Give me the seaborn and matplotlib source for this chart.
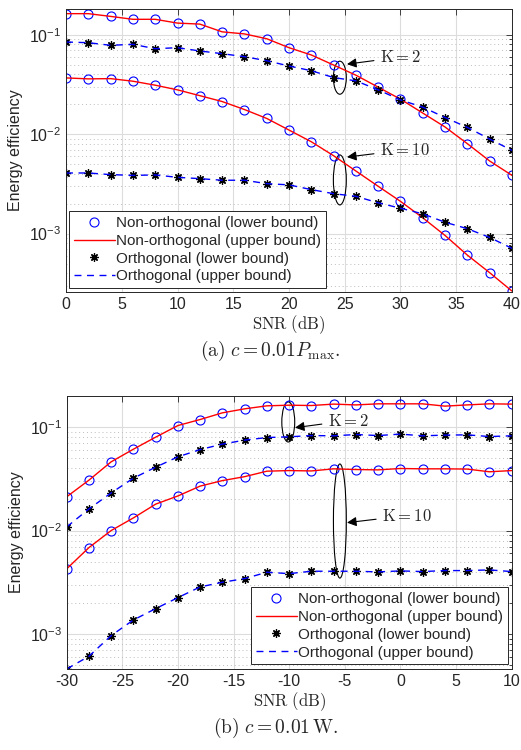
import numpy as np
import pandas as pd
import matplotlib
matplotlib.use('Agg')
import matplotlib.pyplot as plt
import seaborn as sns
from matplotlib.patches import Ellipse
from matplotlib.lines import Line2D
from matplotlib.ticker import LogLocator, NullFormatter

# SNR grids
snr_a = [0, 2, 4, 6, 8, 10, 12, 14, 16, 18, 20, 22, 24, 26, 28, 30, 32, 34, 36, 38, 40]
snr_b = [-30, -28, -26, -24, -22, -20, -18, -16, -14, -12, -10, -8, -6, -4, -2, 0, 2, 4, 6, 8, 10]

# (a) c = 0.01 Pmax
noma_k2_a = [0.163, 0.163, 0.153, 0.143, 0.143, 0.131, 0.128, 0.107, 0.102, 0.0912, 0.0741,
             0.0626, 0.0496, 0.0392, 0.0297, 0.0225, 0.0163, 0.0118, 0.00802, 0.00537, 0.00385]
oma_k2_a = [0.0845, 0.0832, 0.0783, 0.0801, 0.0724, 0.0741, 0.0687, 0.0645, 0.0602, 0.0548, 0.0485,
            0.0435, 0.0371, 0.0344, 0.0279, 0.0221, 0.0187, 0.0147, 0.0117, 0.00893, 0.00687]
noma_k10_a = [0.0368, 0.0360, 0.0362, 0.0341, 0.0311, 0.0279, 0.0244, 0.0213, 0.0177, 0.0144, 0.0110,
              0.00839, 0.00607, 0.00426, 0.00299, 0.00211, 0.00144, 0.000957, 0.000607, 0.000404, 0.000264]
oma_k10_a = [0.00407, 0.00407, 0.00392, 0.00385, 0.00389, 0.00368, 0.00357, 0.00344, 0.00344, 0.00318, 0.00309,
             0.00277, 0.00252, 0.00237, 0.00204, 0.00180, 0.00158, 0.00130, 0.00112, 0.000914, 0.000710]

# (b) c = 0.01 W
noma_k2_b = [0.0212, 0.0307, 0.0462, 0.0612, 0.0800, 0.1036, 0.1185, 0.1375, 0.1503, 0.1607, 0.163,
             0.1618, 0.167, 0.164, 0.168, 0.168, 0.168, 0.1596, 0.164, 0.168, 0.167]
oma_k2_b = [0.01084, 0.01618, 0.0231, 0.0321, 0.0410, 0.0516, 0.0607, 0.0685, 0.0749, 0.0793, 0.0806,
            0.0829, 0.0824, 0.0848, 0.0829, 0.0856, 0.0824, 0.0837, 0.0842, 0.0811, 0.0824]
noma_k10_b = [0.00426, 0.00684, 0.0100, 0.01325, 0.0180, 0.0216, 0.0269, 0.0304, 0.0332, 0.0375, 0.0380,
              0.0377, 0.0395, 0.0389, 0.0386, 0.0398, 0.0395, 0.0395, 0.0393, 0.0370, 0.0380]
oma_k10_b = [0.000458, 0.000608, 0.000964, 0.001365, 0.001757, 0.002245, 0.00285, 0.00316, 0.00343, 0.00395, 0.00383,
             0.00404, 0.00404, 0.00404, 0.00398, 0.00407, 0.00401, 0.00410, 0.00410, 0.00416, 0.00401]

labels = ['Non-orthogonal (lower bound)', 'Non-orthogonal (upper bound)',
          'Orthogonal (lower bound)', 'Orthogonal (upper bound)']

sns.set_theme(style='white')
plt.rcParams['font.family'] = ['Liberation Sans', 'DejaVu Sans']
plt.rcParams['mathtext.fontset'] = 'cm'
plt.rcParams['axes.unicode_minus'] = False

asterisk = (8, 2, 0)


def draw(ax, snr, noma_k2, oma_k2, noma_k10, oma_k10):
    for noma, oma in [(noma_k2, oma_k2), (noma_k10, oma_k10)]:
        df = pd.DataFrame({'snr': snr, 'noma': noma, 'oma': oma})
        sns.lineplot(data=df, x='snr', y='noma', ax=ax, estimator=None, linestyle='none',
                     marker='o', markersize=6.5, markerfacecolor='none',
                     markeredgecolor='blue', markeredgewidth=0.8)
        sns.lineplot(data=df, x='snr', y='noma', ax=ax, estimator=None, color='red', lw=1)
        sns.lineplot(data=df, x='snr', y='oma', ax=ax, estimator=None, linestyle='none',
                     marker=asterisk, markersize=6, markeredgecolor='black',
                     markerfacecolor='black', markeredgewidth=0.9)
        sns.lineplot(data=df, x='snr', y='oma', ax=ax, estimator=None, color='blue', lw=1,
                     linestyle=(0, (5, 4)))
    ax.set_yscale('log')
    ax.set_xlim(snr[0], snr[-1])
    ax.set_xticks(range(snr[0], snr[-1] + 1, 5))
    ax.yaxis.set_major_locator(LogLocator(base=10))
    ax.yaxis.set_minor_locator(LogLocator(base=10, subs=np.arange(2, 10)))
    ax.yaxis.set_minor_formatter(NullFormatter())
    ax.grid(which='major', axis='both', color='#dcdcdc', lw=0.8, ls='-')
    ax.grid(which='minor', axis='y', color='#bdbdbd', lw=0.7, ls=(0, (1, 3)))
    ax.set_axisbelow(True)
    ax.tick_params(which='both', direction='in', top=True, right=True, labelsize=11.5,
                   colors='#262626', width=0.6)
    ax.tick_params(which='major', length=4.5)
    ax.tick_params(which='minor', length=2.5)
    for s in ax.spines.values():
        s.set_color('#262626')
        s.set_linewidth(0.7)
    ax.set_xlabel(r'$\mathrm{SNR\ (dB)}$', fontsize=12, labelpad=1)
    ax.set_ylabel('Energy efficiency', fontsize=11.5, labelpad=4)


def legend(ax, **kw):
    handles = [
        Line2D([], [], ls='none', marker='o', ms=6.5, mfc='none', mec='blue', mew=0.8),
        Line2D([], [], color='red', lw=1),
        Line2D([], [], ls='none', marker=asterisk, ms=6, mec='black', mfc='black', mew=0.9),
        Line2D([], [], color='blue', lw=1, ls=(0, (5, 4))),
    ]
    lg = ax.legend(handles, labels, fontsize=11, frameon=True, fancybox=False, framealpha=1,
                   edgecolor='#262626', borderaxespad=0, handlelength=2.7, handletextpad=0.1,
                   labelspacing=0.25, borderpad=0.3, **kw)
    lg.get_frame().set_linewidth(0.7)


def mark(ax, center, w, h, text_xy, tip_xy, text):
    ax.add_patch(Ellipse(center, w, h, transform=ax.transAxes, fill=False, ec='black', lw=0.8))
    ax.annotate(text, xy=tip_xy, xytext=text_xy, xycoords='axes fraction',
                textcoords='axes fraction', fontsize=12, va='center', ha='left',
                arrowprops=dict(arrowstyle='-|>', color='black', lw=0.8, mutation_scale=14,
                                shrinkA=2, shrinkB=0))


fig = plt.figure(figsize=(5.21, 7.5), dpi=100)
ax1 = fig.add_axes([0.1267, 0.611, 0.856, 0.3765])
ax2 = fig.add_axes([0.128, 0.108, 0.854, 0.364])

draw(ax1, snr_a, noma_k2_a, oma_k2_a, noma_k10_a, oma_k10_a)
ax1.set_ylim(2.6e-4, 0.18)
legend(ax1, loc='lower left', bbox_to_anchor=(0.007, 0.013))
mark(ax1, (0.614, 0.758), 0.029, 0.117, (0.704, 0.831), (0.630, 0.806), r'$\mathrm{K{=}2}$')
mark(ax1, (0.614, 0.396), 0.029, 0.177, (0.704, 0.502), (0.630, 0.477), r'$\mathrm{K{=}10}$')

draw(ax2, snr_b, noma_k2_b, oma_k2_b, noma_k10_b, oma_k10_b)
ax2.set_ylim(4.58e-4, 0.2)
legend(ax2, loc='lower right', bbox_to_anchor=(0.992, 0.018))
mark(ax2, (0.498, 0.905), 0.029, 0.147, (0.587, 0.910), (0.513, 0.884), r'$\mathrm{K{=}2}$')
mark(ax2, (0.614, 0.542), 0.029, 0.418, (0.709, 0.562), (0.630, 0.536), r'$\mathrm{K{=}10}$')

fig.text(0.518, 1 - 351 / 750, r'$\mathrm{(a)}\ c = 0.01P_{\max}.$', ha='center', va='center', fontsize=14)
fig.text(0.528, 1 - 728 / 750, r'$\mathrm{(b)}\ c = 0.01\,\mathrm{W}.$', ha='center', va='center', fontsize=14)

fig.savefig('out.png', dpi=100)
